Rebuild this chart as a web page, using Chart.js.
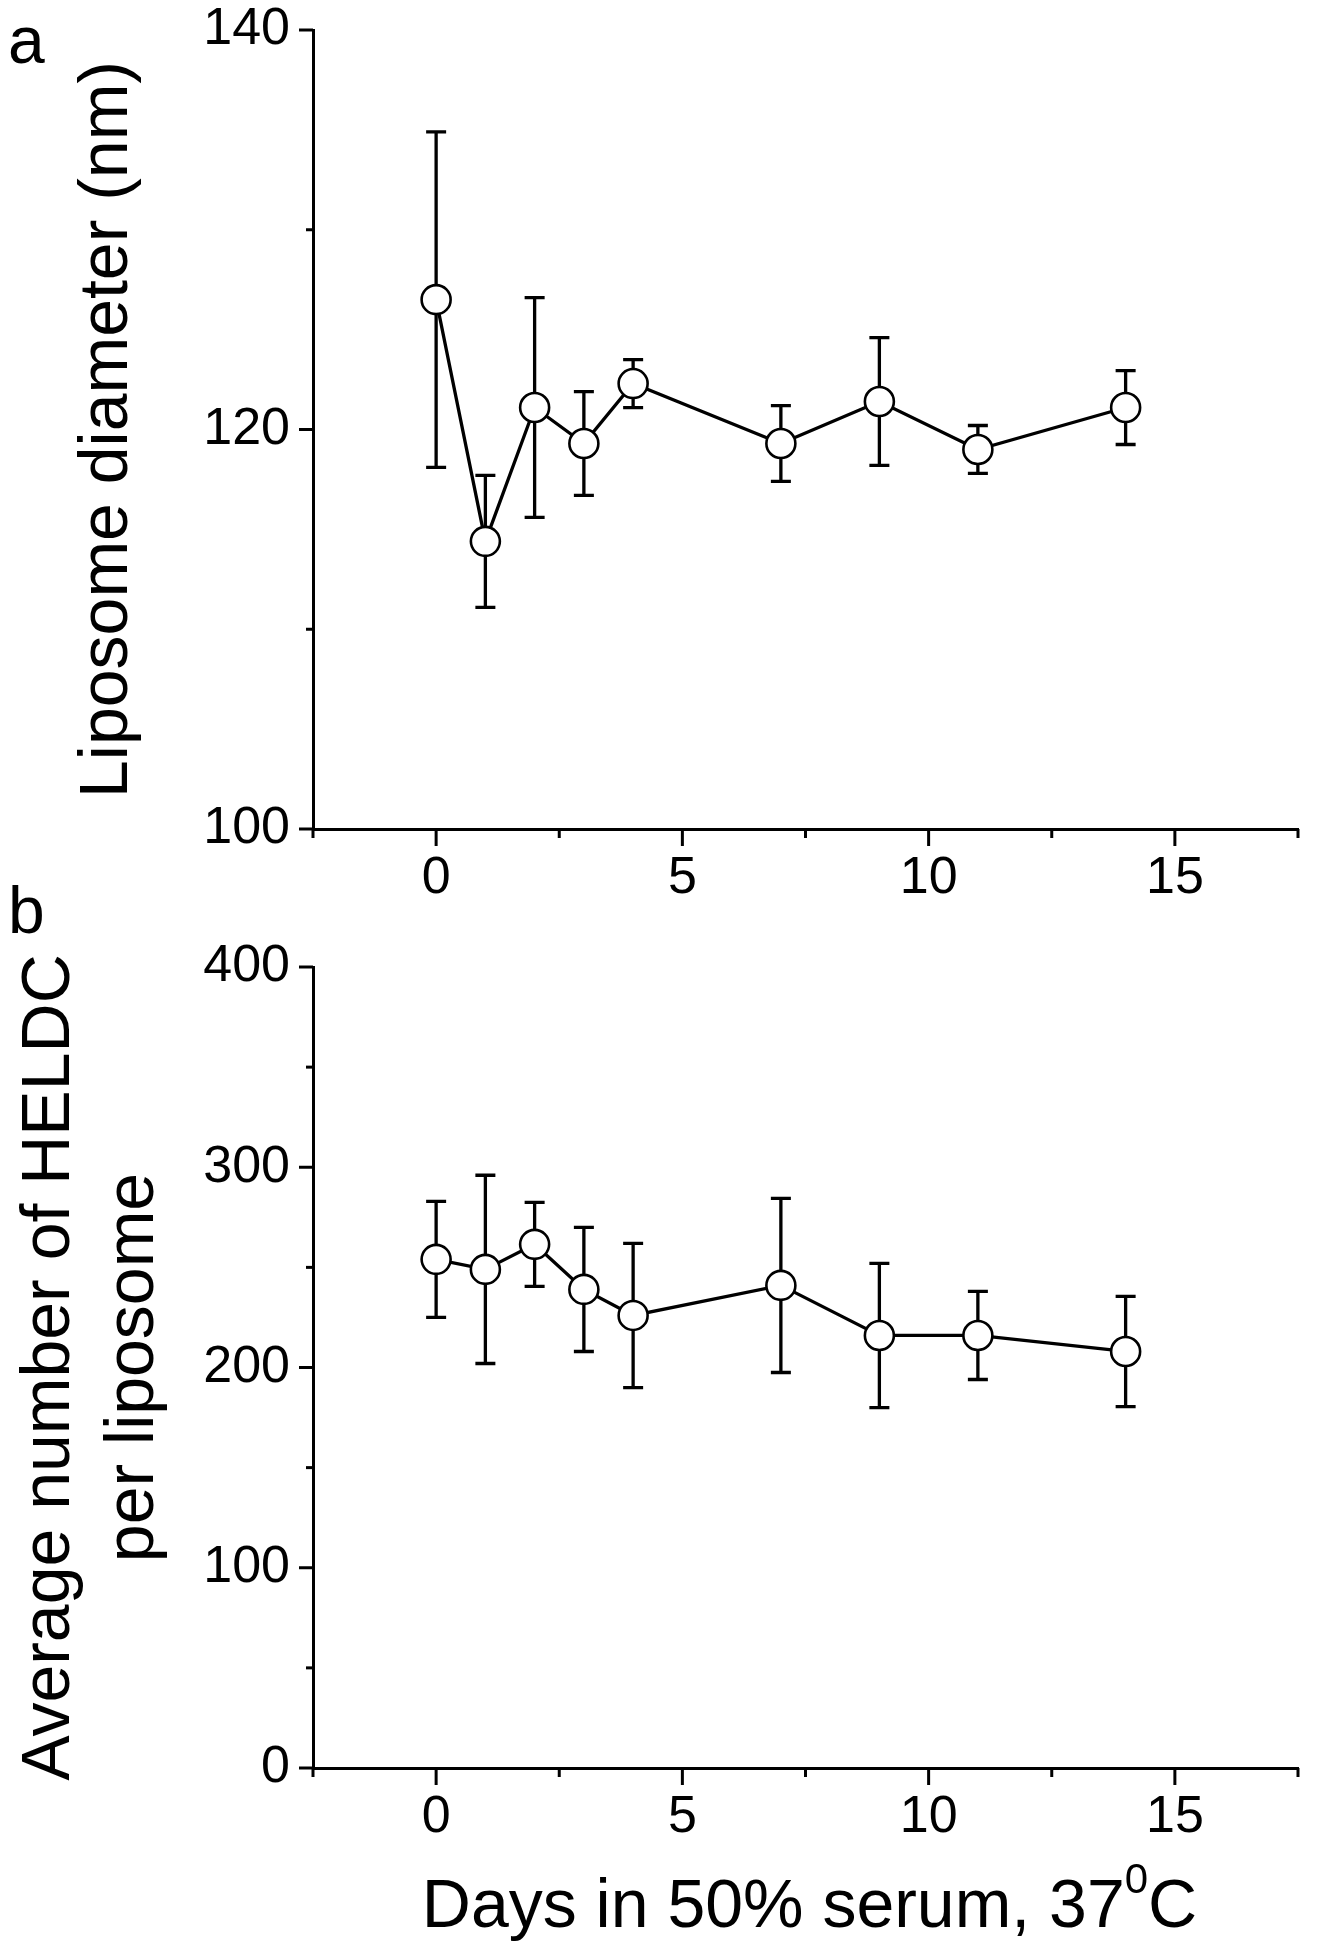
<!DOCTYPE html>
<html>
<head>
<meta charset="utf-8">
<script src="https://cdn.jsdelivr.net/npm/chart.js@4.4.1/dist/chart.umd.min.js"></script>
<style>
  html, body { margin: 0; padding: 0; background: #fff; }
  #wrap { position: relative; width: 1322px; height: 1950px; overflow: hidden; }
  canvas { position: absolute; left: 0; }
  #chartA { top: -30px; }
  #chartB { top: 860px; }
</style>
</head>
<body>
<div id="wrap">
  <canvas id="chartA" width="1322" height="950"></canvas>
  <canvas id="chartB" width="1322" height="1090"></canvas>
</div>
<script>
'use strict';

// ─── Data ─────────────────────────────────────────────────────
const days         = [0, 1, 2, 3, 4, 7, 9, 11, 14];
const diameterMean = [126.5, 114.4, 121.1, 119.3, 122.3, 119.3, 121.4, 119.0, 121.1];
const diameterErr  = [8.4, 3.3, 5.5, 2.6, 1.2, 1.9, 3.2, 1.2, 1.85];
const heldcMean    = [254, 249, 261.5, 239, 226, 241, 216, 216, 208];
const heldcErr     = [29, 47, 21, 31, 36, 43.5, 36, 22, 27.5];

const xLabelled  = [0, 5, 10, 15];
const yLabelledA = [100, 120, 140];
const yLabelledB = [0, 100, 200, 300, 400];

const FONT = "'Liberation Sans', Arial, sans-serif";

// ─── Plugins ──────────────────────────────────────────────────
// error bars, drawn under the markers
const errorBars = {
  id: 'errorBars',
  beforeDatasetsDraw(chart, args, opts) {
    const { ctx, scales: { x, y } } = chart;
    const pts = chart.data.datasets[0].data;
    ctx.save();
    ctx.strokeStyle = '#000';
    ctx.lineWidth = 3.3;
    opts.err.forEach((e, i) => {
      const px  = x.getPixelForValue(pts[i].x);
      const top = y.getPixelForValue(pts[i].y + e);
      const bot = y.getPixelForValue(pts[i].y - e);
      ctx.beginPath();
      ctx.moveTo(px, top); ctx.lineTo(px, bot);
      ctx.moveTo(px - 10, top); ctx.lineTo(px + 10, top);
      ctx.moveTo(px - 10, bot); ctx.lineTo(px + 10, bot);
      ctx.stroke();
    });
    ctx.restore();
  }
};

// outward tick marks, long for labelled values, short otherwise
const axisTicks = {
  id: 'axisTicks',
  afterDraw(chart, args, opts) {
    const { ctx, chartArea: { left, bottom }, scales: { x, y } } = chart;
    ctx.save();
    ctx.strokeStyle = '#000';
    ctx.lineWidth = 3;
    x.ticks.forEach(t => {
      const px = x.getPixelForValue(t.value);
      const len = xLabelled.includes(t.value) ? 17 : 9;
      ctx.beginPath(); ctx.moveTo(px, bottom); ctx.lineTo(px, bottom + len); ctx.stroke();
    });
    y.ticks.forEach(t => {
      const py = y.getPixelForValue(t.value);
      const len = opts.yMajor.includes(t.value) ? 14 : 7;
      ctx.beginPath(); ctx.moveTo(left, py); ctx.lineTo(left - len, py); ctx.stroke();
    });
    ctx.restore();
  }
};

// panel letter (a / b)
const panelLabel = {
  id: 'panelLabel',
  afterDraw(chart, args, opts) {
    const ctx = chart.ctx;
    ctx.save();
    ctx.fillStyle = '#000';
    ctx.font = `66px ${FONT}`;
    ctx.textAlign = 'left';
    ctx.textBaseline = 'alphabetic';
    ctx.fillText(opts.text, opts.x, opts.y);
    ctx.restore();
  }
};

// x title with a superscript degree
const xTitle = {
  id: 'xTitle',
  afterDraw(chart, args, opts) {
    if (!opts.show) return;
    const { ctx, chartArea: { left, right } } = chart;
    const main = 'Days in 50% serum, 37', sup = '0', tail = 'C';
    ctx.save();
    ctx.fillStyle = '#000';
    ctx.textBaseline = 'alphabetic';
    ctx.textAlign = 'left';
    ctx.font = `68px ${FONT}`;
    const wMain = ctx.measureText(main).width;
    const wTail = ctx.measureText(tail).width;
    ctx.font = `42px ${FONT}`;
    const wSup = ctx.measureText(sup).width;
    let x0 = (left + right) / 2 + 4 - (wMain + wSup + wTail) / 2;
    const base = opts.baseline;
    ctx.font = `68px ${FONT}`;
    ctx.fillText(main, x0, base);
    x0 += wMain;
    ctx.font = `42px ${FONT}`;
    ctx.fillText(sup, x0, base - 34);
    x0 += wSup;
    ctx.font = `68px ${FONT}`;
    ctx.fillText(tail, x0, base);
    ctx.restore();
  }
};

// ─── Panel builder ────────────────────────────────────────────
function makePanel(id, mean, err, cfg) {
  const data = days.map((d, i) => ({ x: d, y: mean[i] }));
  return new Chart(document.getElementById(id), {
    type: 'line',
    data: {
      datasets: [{
        data,
        borderColor: '#000',
        borderWidth: 3.3,
        tension: 0,
        pointRadius: 14.5,
        pointHoverRadius: 14.5,
        pointBorderWidth: 2.6,
        pointBorderColor: '#000',
        pointBackgroundColor: '#fff',
      }]
    },
    options: {
      responsive: false,
      animation: false,
      events: [],
      layout: { padding: { left: 0, right: 12, top: cfg.padTop, bottom: 0 } },
      plugins: {
        legend: { display: false },
        tooltip: { enabled: false },
        errorBars: { err },
        axisTicks: { yMajor: cfg.yMajor },
        panelLabel: { text: cfg.letter, x: 8, y: cfg.letterY },
        xTitle: { show: cfg.xTitle, baseline: cfg.xTitleBaseline },
      },
      scales: {
        x: {
          type: 'linear',
          min: -2.5, max: 17.5,
          ticks: {
            stepSize: 2.5,
            padding: 24,
            color: '#000',
            font: { family: FONT, size: 52, lineHeight: 1 },
            callback: v => xLabelled.includes(v) ? String(v) : '',
          },
          grid: { display: false, drawTicks: false },
          border: { display: true, color: '#000', width: 3 },
          afterFit(scale) { scale.height = cfg.xAxisHeight; },
        },
        y: {
          min: cfg.yMin, max: cfg.yMax,
          ticks: {
            stepSize: cfg.yStep,
            padding: 23,
            color: '#000',
            font: { family: FONT, size: 52, lineHeight: 1 },
            callback: v => cfg.yMajor.includes(v) ? String(v) : '',
          },
          grid: { display: false, drawTicks: false },
          border: { display: true, color: '#000', width: 3 },
          title: {
            display: true,
            text: cfg.yTitle,
            color: '#000',
            font: { family: FONT, size: 68, lineHeight: cfg.yTitleLH },
            padding: { top: cfg.yTitlePad, bottom: 0 },
          },
          afterFit(scale) { scale.width = 313; },
        }
      }
    },
    plugins: [errorBars, axisTicks, panelLabel, xTitle]
  });
}

// panel a: canvas shifted up 30px, so plot top sits at page y = 30
makePanel('chartA', diameterMean, diameterErr, {
  padTop: 60, xAxisHeight: 91,
  yMin: 100, yMax: 140, yStep: 10, yMajor: yLabelledA,
  yTitle: 'Liposome diameter (nm)', yTitleLH: 1, yTitlePad: 74,
  letter: 'a', letterY: 93,
  xTitle: false,
});

// panel b: canvas starts at page y = 860
makePanel('chartB', heldcMean, heldcErr, {
  padTop: 107, xAxisHeight: 182,
  yMin: 0, yMax: 400, yStep: 50, yMajor: yLabelledB,
  yTitle: ['Average number of HELDC', 'per liposome'], yTitleLH: 1.235, yTitlePad: 8,
  letter: 'b', letterY: 73,
  xTitle: true, xTitleBaseline: 1067,
});
</script>
</body>
</html>
